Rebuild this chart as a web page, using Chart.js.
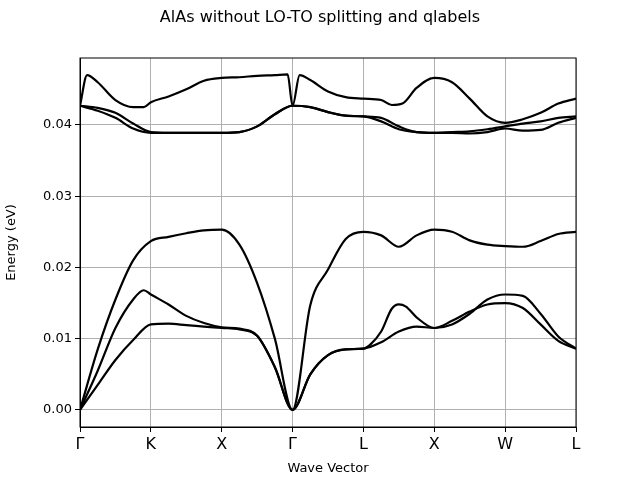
<!DOCTYPE html>
<html><head><meta charset="utf-8">
<script src="https://cdn.jsdelivr.net/npm/chart.js@4"></script>
<style>body{margin:0;background:#fff}</style></head>
<body><canvas id="c" width="640" height="480"></canvas>
<script>
const title = "AlAs without LO-TO splitting and qlabels";
const tickLabels = ["Γ","K","X","Γ","L","X","W","L"];
const xStd = [0,0.25,0.5,0.75,1,1.25,1.5,1.75,2,2.25,2.5,2.75,3,3.25,3.5,3.75,4,4.25,4.5,4.75,5,5.25,5.5,5.75,6,6.25,6.5,6.75,7];
const ta1 = [0,0.0035,0.007,0.0098,0.012,0.0121,0.0119,0.0117,0.0115,0.0113,0.0104,0.006,0,0.005,0.0077,0.0085,0.0086,0.0095,0.011,0.0117,0.0115,0.0125,0.0138,0.0148,0.015,0.0143,0.012,0.0097,0.0086];
const xTa2 = [0,0.25,0.5,0.75,0.9,1,1.25,1.5,1.75,2,2.25,2.5,2.75,3,3.25,3.5,3.75,4,4.1,4.25,4.4,4.5,4.6,4.75,5,5.25,5.5,5.75,6,6.25,6.5,6.75,7];
const ta2 = [0,0.0055,0.0115,0.0155,0.0168,0.0162,0.0148,0.0132,0.0122,0.0116,0.0114,0.0104,0.006,0,0.005,0.0077,0.0085,0.0086,0.0092,0.011,0.0142,0.0148,0.0145,0.013,0.0115,0.012,0.0135,0.0155,0.0162,0.016,0.0135,0.0103,0.0086];
const la = [0,0.0085,0.0155,0.021,0.0237,0.0243,0.0248,0.0252,0.0253,0.0232,0.0178,0.01,0,0.0147,0.0197,0.024,0.025,0.0245,0.0229,0.0245,0.0253,0.025,0.0238,0.0232,0.023,0.0229,0.0237,0.0247,0.025];
const to1 = [0.0427,0.042,0.041,0.0395,0.0389,0.0389,0.0389,0.0389,0.0389,0.039,0.0398,0.0415,0.0427,0.0425,0.0418,0.0413,0.0412,0.0405,0.0394,0.039,0.0389,0.0389,0.0388,0.039,0.0395,0.0392,0.0393,0.0403,0.041];
const to2 = [0.0427,0.0424,0.0417,0.0402,0.039,0.0389,0.0389,0.0389,0.0389,0.039,0.0398,0.0415,0.0427,0.0425,0.0418,0.0413,0.0412,0.041,0.0398,0.039,0.0389,0.039,0.0391,0.0394,0.0398,0.0402,0.0405,0.041,0.0412];
const xLo = [0,0.1,0.25,0.5,0.75,0.9,1,1.25,1.5,1.75,2,2.25,2.5,2.75,2.93,3,3.1,3.25,3.5,3.75,4,4.25,4.4,4.55,4.75,5,5.25,5.5,5.75,6,6.25,6.5,6.75,7];
const lo = [0.0427,0.047,0.046,0.0435,0.0425,0.0425,0.0432,0.044,0.045,0.0462,0.0466,0.0467,0.0469,0.047,0.0471,0.0427,0.047,0.0463,0.0447,0.0439,0.0437,0.0435,0.0428,0.043,0.0452,0.0466,0.046,0.0437,0.0412,0.0403,0.0408,0.0417,0.043,0.0437];

const bands = [[xStd,ta1],[xTa2,ta2],[xStd,la],[xStd,to1],[xStd,to2],[xLo,lo]];
const datasets = bands.map(([xs,ys])=>({
  data: xs.map((x,i)=>({x:x,y:ys[i]})),
  borderColor:'#000', borderWidth:2.2, pointRadius:0, fill:false,
  cubicInterpolationMode:'monotone'
}));
const frame = {id:'frame', afterDraw(ch){
  const a=ch.chartArea, c=ch.ctx; c.save();
  c.strokeStyle='#000'; c.lineWidth=1; c.strokeRect(a.left,a.top,a.right-a.left,a.bottom-a.top);
  c.fillStyle='#000'; c.font='16px "DejaVu Sans"'; c.textAlign='center'; c.textBaseline='middle';
  c.fillText(title,320,18); c.restore();
}};
new Chart(document.getElementById('c'),{
  type:'line', data:{datasets},
  options:{responsive:false, animation:false,
    layout:{padding:{top:58,right:64,left:0,bottom:0}},
    plugins:{legend:{display:false},tooltip:{enabled:false}},
    scales:{
      x:{type:'linear',min:0,max:7,
        ticks:{stepSize:1,color:'#000',font:{family:'DejaVu Sans',size:16},maxRotation:0,callback:v=>tickLabels[v]},
        grid:{color:'#b0b0b0',tickColor:'#000',tickLength:5},border:{color:'#000'},
        title:{display:true,text:'Wave Vector',color:'#000',font:{family:'DejaVu Sans',size:13}},
        afterFit:s=>{s.height=53;}},
      y:{min:-0.0024,max:0.0494,
        afterBuildTicks:s=>{s.ticks=[0,0.01,0.02,0.03,0.04].map(v=>({value:v}));},
        ticks:{color:'#000',font:{family:'DejaVu Sans',size:13},callback:v=>v.toFixed(2)},
        grid:{color:'#b0b0b0',tickColor:'#000',tickLength:5},border:{color:'#000'},
        title:{display:true,text:'Energy (eV)',color:'#000',font:{family:'DejaVu Sans',size:13}},
        afterFit:s=>{s.width=80;}}
    }},
  plugins:[frame]
});
</script></body></html>
